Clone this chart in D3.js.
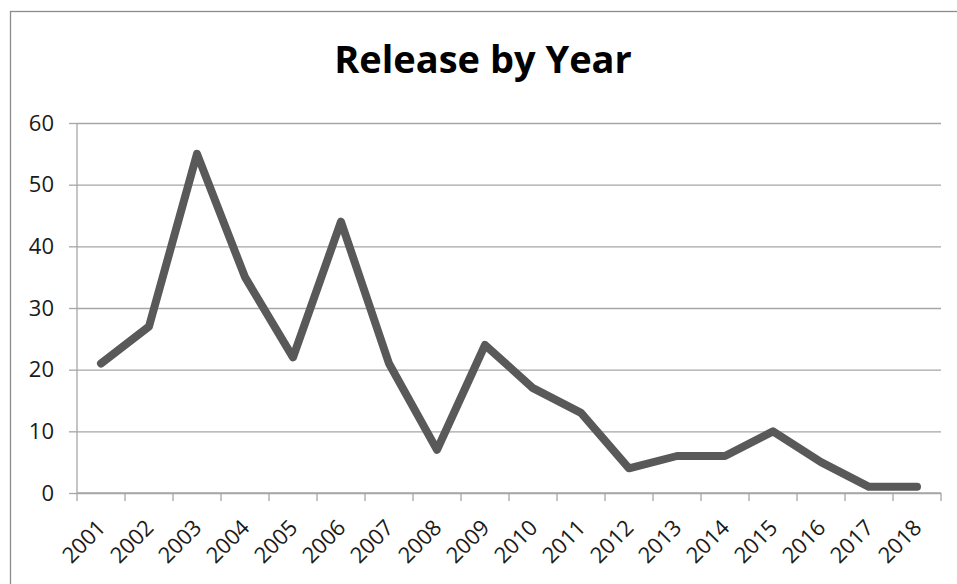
<!DOCTYPE html>
<html>
<head>
<meta charset="utf-8">
<script src="https://cdn.jsdelivr.net/npm/d3@7"></script>
<style>
  body { margin: 0; background: #fff; }
  svg { display: block; }
  svg text { font-family: "Open Sans", Lato, sans-serif; }
  .grid line { stroke: #a6a6a6; stroke-width: 1.3; }
  .grid path { display: none; }
  .axis path, .axis line { stroke: #a6a6a6; stroke-width: 1.3; }
  .axis text { fill: #1a1a1a; font-size: 22px; }
</style>
</head>
<body>
<svg id="chart" width="957" height="584"></svg>
<script>
// chart data
var years = ["2001","2002","2003","2004","2005","2006","2007","2008","2009",
             "2010","2011","2012","2013","2014","2015","2016","2017","2018"];
var releases = [21, 27, 55, 35, 22, 44, 21, 7, 24, 17, 13, 4, 6, 6, 10, 5, 1, 1];
var yTicks = [0, 10, 20, 30, 40, 50, 60];

function drawReleases(){
  var svg = d3.select("#chart");

  // outer frame (runs off the right and bottom of the picture)
  svg.append("rect")
    .attr("x", 10.5)
    .attr("y", 11.5)
    .attr("width", 1000)
    .attr("height", 1000)
    .attr("fill", "none")
    .attr("stroke", "#8c8c8c")
    .attr("stroke-width", 1.3);

  var margin = {top: 123, right: 16, bottom: 91, left: 77},
      width = 957 - margin.left - margin.right,
      height = 584 - margin.top - margin.bottom;

  svg.append("text")
    .text("Release by Year")
    .attr("x", 483)
    .attr("y", 73)
    .style("text-anchor", "middle")
    .style("font-size", "38px")
    .style("font-weight", "bold")
    .style("fill", "#000");

  var g = svg.append("g")
    .attr("transform", "translate(" + margin.left + "," + margin.top + ")");

  var x = d3.scaleBand()
    .domain(years)
    .range([0, width]);

  var y = d3.scaleLinear()
    .domain([0, 60])
    .range([height, 0]);

  // horizontal gridlines
  g.append("g")
    .attr("class", "grid")
    .call(d3.axisLeft(y).tickValues(yTicks).tickSize(-width).tickFormat(""));

  // y axis
  var yAxis = g.append("g")
    .attr("class", "axis y")
    .call(d3.axisLeft(y).tickValues(yTicks).tickSizeInner(8).tickSizeOuter(0).tickPadding(15));
  yAxis.select(".domain").attr("d", "M0," + height + "V0");

  // x axis: ticks sit on the band edges
  var edges = years.map(function(d){ return x(d); }).concat([width]);
  var xAxis = g.append("g")
    .attr("class", "axis x")
    .attr("transform", "translate(0," + height + ")");
  xAxis.append("path")
    .attr("class", "domain")
    .attr("d", "M0,0H" + width);
  xAxis.selectAll("line")
    .data(edges)
    .enter().append("line")
      .attr("x1", function(d){ return d; })
      .attr("x2", function(d){ return d; })
      .attr("y1", 0)
      .attr("y2", 8);
  xAxis.selectAll("text")
    .data(years)
    .enter().append("text")
      .text(function(d){ return d; })
      .attr("transform", function(d){
        return "translate(" + (x(d) + x.bandwidth()/2 + 6) + ",36) rotate(-45)";
      })
      .style("text-anchor", "end");

  // the line
  var line = d3.line()
    .x(function(d, i){ return x(years[i]) + x.bandwidth()/2; })
    .y(function(d){ return y(d); });

  g.append("path")
    .datum(releases)
    .attr("d", line)
    .attr("fill", "none")
    .attr("stroke", "#595959")
    .attr("stroke-width", 8)
    .attr("stroke-linejoin", "round")
    .attr("stroke-linecap", "round");
}

drawReleases();
</script>
</body>
</html>
